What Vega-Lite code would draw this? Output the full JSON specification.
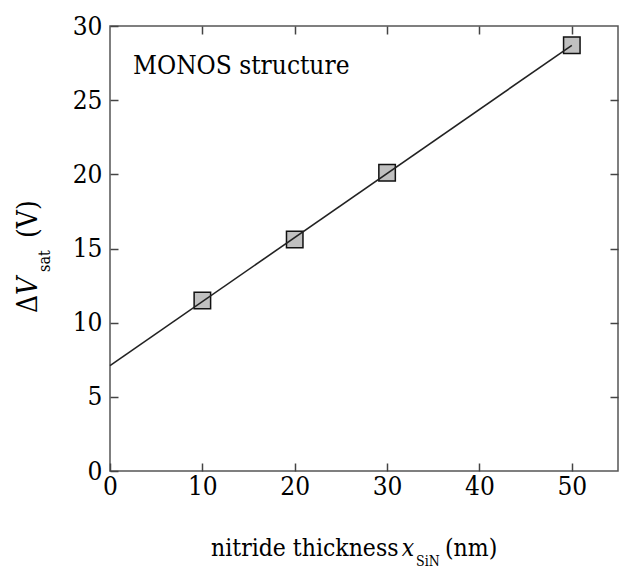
{
  "$schema": "https://vega.github.io/schema/vega-lite/v6.json",
  "width": 508,
  "height": 445,
  "autosize": {"type": "none"},
  "padding": {"left": 110, "top": 26, "right": 3, "bottom": 101},
  "background": "white",
  "datasets": {
    "measured": [
      {"t": 10, "v": 11.5},
      {"t": 20, "v": 15.6},
      {"t": 30, "v": 20.1},
      {"t": 50, "v": 28.7}
    ],
    "fit": [
      {"t": 0, "v": 7.1},
      {"t": 50, "v": 28.7}
    ]
  },
  "layer": [
    {
      "data": {"name": "measured"},
      "mark": {"type": "square", "size": 272, "fill": "#c0c0c0", "stroke": "#111", "strokeWidth": 1.5, "opacity": 1},
      "encoding": {
        "x": {"field": "t", "type": "quantitative", "scale": {"domain": [0, 55], "nice": false, "zero": false},
          "axis": {"orient": "bottom", "values": [0, 10, 20, 30, 40, 50]}},
        "y": {"field": "v", "type": "quantitative", "scale": {"domain": [0, 30], "nice": false, "zero": false},
          "axis": {"orient": "left", "values": [0, 5, 10, 15, 20, 25, 30]}}
      }
    },
    {
      "data": {"name": "fit"},
      "mark": {"type": "line", "color": "#222", "strokeWidth": 1.6},
      "encoding": {
        "x": {"field": "t", "type": "quantitative", "scale": {"domain": [0, 55], "nice": false, "zero": false},
          "axis": {"orient": "top", "values": [10, 20, 30, 40, 50], "labels": false}},
        "y": {"field": "v", "type": "quantitative", "scale": {"domain": [0, 30], "nice": false, "zero": false},
          "axis": {"orient": "right", "values": [5, 10, 15, 20, 25], "labels": false}}
      }
    },
    {
      "data": {"values": [{"t": 2.49, "v": 26.75, "label": "MONOS structure"}]},
      "mark": {"type": "text", "font": "DejaVu Serif Condensed", "fontSize": 26, "align": "left", "baseline": "alphabetic", "color": "black"},
      "encoding": {
        "x": {"field": "t", "type": "quantitative", "axis": null},
        "y": {"field": "v", "type": "quantitative", "axis": null},
        "text": {"field": "label"}
      }
    },
    {
      "data": {"values": [
        {"t": 10.94, "v": -5.73, "label": "nitride thickness"},
        {"t": 36.27, "v": -5.73, "label": "(nm)"}
      ]},
      "mark": {"type": "text", "font": "DejaVu Serif Condensed", "fontSize": 24.5, "align": "left", "baseline": "alphabetic", "color": "black"},
      "encoding": {
        "x": {"field": "t", "type": "quantitative", "axis": null},
        "y": {"field": "v", "type": "quantitative", "axis": null},
        "text": {"field": "label"}
      }
    },
    {
      "data": {"values": [{"t": 31.6, "v": -5.73, "label": "x"}]},
      "mark": {"type": "text", "font": "DejaVu Serif Condensed", "fontSize": 24.5, "fontStyle": "italic", "align": "left", "baseline": "alphabetic", "color": "black"},
      "encoding": {
        "x": {"field": "t", "type": "quantitative", "axis": null},
        "y": {"field": "v", "type": "quantitative", "axis": null},
        "text": {"field": "label"}
      }
    },
    {
      "data": {"values": [{"t": 33.13, "v": -6.4, "label": "SiN"}]},
      "mark": {"type": "text", "font": "DejaVu Serif Condensed", "fontSize": 14, "align": "left", "baseline": "alphabetic", "color": "black"},
      "encoding": {
        "x": {"field": "t", "type": "quantitative", "axis": null},
        "y": {"field": "v", "type": "quantitative", "axis": null},
        "text": {"field": "label"}
      }
    },
    {
      "data": {"values": [
        {"t": -7.9, "v": 10.65, "label": "Δ"},
        {"t": -7.9, "v": 15.71, "label": "(V)"}
      ]},
      "mark": {"type": "text", "font": "DejaVu Serif Condensed", "fontSize": 28, "angle": 270, "align": "left", "baseline": "alphabetic", "color": "black"},
      "encoding": {
        "x": {"field": "t", "type": "quantitative", "axis": null},
        "y": {"field": "v", "type": "quantitative", "axis": null},
        "text": {"field": "label"}
      }
    },
    {
      "data": {"values": [{"t": -7.9, "v": 11.87, "label": "V"}]},
      "mark": {"type": "text", "font": "DejaVu Serif Condensed", "fontSize": 28, "fontStyle": "italic", "angle": 270, "align": "left", "baseline": "alphabetic", "color": "black"},
      "encoding": {
        "x": {"field": "t", "type": "quantitative", "axis": null},
        "y": {"field": "v", "type": "quantitative", "axis": null},
        "text": {"field": "label"}
      }
    },
    {
      "data": {"values": [{"t": -6.5, "v": 13.42, "label": "sat"}]},
      "mark": {"type": "text", "font": "DejaVu Serif Condensed", "fontSize": 16, "angle": 270, "align": "left", "baseline": "alphabetic", "color": "black"},
      "encoding": {
        "x": {"field": "t", "type": "quantitative", "axis": null},
        "y": {"field": "v", "type": "quantitative", "axis": null},
        "text": {"field": "label"}
      }
    }
  ],
  "resolve": {"axis": {"x": "independent", "y": "independent"}},
  "config": {
    "view": {"stroke": "#555", "strokeWidth": 1.5},
    "axis": {
      "domain": false,
      "grid": false,
      "title": null,
      "ticks": true,
      "tickSize": -8,
      "tickColor": "#444",
      "tickWidth": 1.5,
      "labelFont": "DejaVu Serif Condensed",
      "labelFontSize": 26,
      "labelColor": "black",
      "labelOverlap": false,
      "labelFlush": false
    },
    "axisBottom": {"labelPadding": 10},
    "axisLeft": {"labelPadding": 16}
  }
}
